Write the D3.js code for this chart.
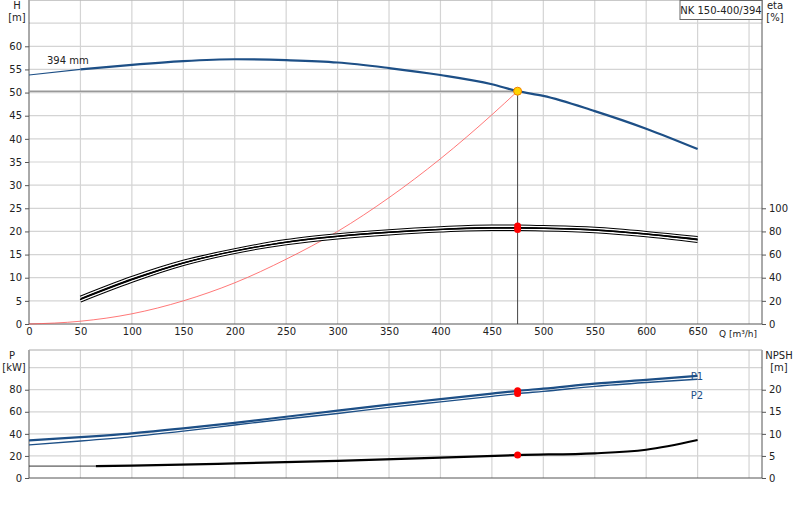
<!DOCTYPE html>
<html><head><meta charset="utf-8">
<script src="https://cdn.jsdelivr.net/npm/d3@7"></script>
<style>body{margin:0;background:#fff}text{font-family:"DejaVu Sans",sans-serif;font-size:10px;fill:#222}</style>
</head><body>
<svg width="800" height="520"></svg>
<script>
// pump curve data
const qH = [0, 50, 100, 150, 200, 250, 300, 350, 400, 450, 475, 500, 550, 600, 650];
const head = [53.8, 55, 56, 56.8, 57.2, 57, 56.5, 55.3, 53.8, 51.8, 50.3, 49.3, 46, 42.2, 37.8];
const qEta = [50, 100, 150, 200, 250, 300, 350, 400, 450, 475, 500, 550, 600, 650];
const etaHi = [23, 40, 54, 64, 72, 77, 80.5, 83, 84.5, 84.5, 84, 82.5, 79, 74.5];
const etaLo = [20, 37, 51.5, 62, 69.5, 74.5, 78, 80.5, 81.8, 81.8, 81.5, 80, 76.5, 71.5];
const qSys = [0, 50, 100, 150, 200, 250, 300, 350, 400, 450, 475];
const sysH = [0, 0.6, 2.2, 5, 8.9, 14, 20, 27.3, 35.7, 45.2, 50.3];
const qP = [0, 50, 100, 150, 200, 250, 300, 350, 400, 450, 475, 500, 550, 600, 650];
const p1 = [34, 37, 40.5, 45, 50, 55.5, 61, 66.5, 71.5, 76.5, 79, 81, 85.5, 89, 92.5];
const p2 = [30, 33.5, 37.5, 42.5, 48, 53.5, 58.5, 64, 69, 74, 76.5, 78.5, 83, 86.5, 89.5];
const qN = [0, 65, 100, 200, 300, 400, 475, 550, 600, 650];
const npsh = [2.7, 2.7, 2.8, 3.3, 3.9, 4.6, 5.2, 5.6, 6.4, 8.6];
const duty = {q: 475, h: 50.3, eta: 83.2, p1: 79, p2: 76.5, npsh: 5.2};
const qTicks = d3.range(0, 701, 50);
const hTicks = d3.range(0, 61, 5);
const etaTicks = d3.range(0, 101, 20);
const pTicks = [0, 20, 40, 60, 80];
const nTicks = [0, 5, 10, 15, 20];

const svg = d3.select('svg');
const x = d3.scaleLinear().domain([0, 712.6]).range([29, 762]);
const yH = d3.scaleLinear().domain([0, 70]).range([324, 0]);
const yEta = d3.scaleLinear().domain([0, 280]).range([324, 0]);
const yP = d3.scaleLinear().domain([0, 116]).range([478, 350]);
const yN = d3.scaleLinear().domain([0, 29]).range([478, 350]);

const grid = '#d4d4d4';
function frame(y0, y1, hVals, yS) {
  svg.append('g').selectAll('line').data(qTicks.slice(1)).join('line')
    .attr('x1', d => x(d)).attr('x2', d => x(d)).attr('y1', y0).attr('y2', y1)
    .attr('stroke', grid).attr('stroke-width', 1.2);
  svg.append('g').selectAll('line').data(hVals).join('line')
    .attr('x1', 29).attr('x2', 762).attr('y1', d => yS(d)).attr('y2', d => yS(d))
    .attr('stroke', grid).attr('stroke-width', 1.2);
  svg.append('line').attr('x1', 29).attr('x2', 29).attr('y1', y0).attr('y2', y1).attr('stroke', '#555');
  svg.append('line').attr('x1', 762).attr('x2', 762).attr('y1', y0).attr('y2', y1).attr('stroke', '#555');
  svg.append('line').attr('x1', 29).attr('x2', 762).attr('y1', y0).attr('y2', y0).attr('stroke', '#555');
  svg.append('line').attr('x1', 29).attr('x2', 762).attr('y1', y1).attr('y2', y1).attr('stroke', '#aaa');
}
frame(324, 0, d3.range(5, 71, 5), yH);
frame(478, 350, [20, 40, 60, 80, 100], yP);

// axes
function axis(g, ax) {
  g.call(ax); g.select('.domain').remove();
  g.selectAll('line').attr('stroke', '#555');
}
axis(svg.append('g').attr('transform', 'translate(29,0)'), d3.axisLeft(yH).tickValues(hTicks).tickSize(4).tickPadding(3));
axis(svg.append('g').attr('transform', 'translate(762,0)'), d3.axisRight(yEta).tickValues(etaTicks).tickSize(4).tickPadding(3));
axis(svg.append('g').attr('transform', 'translate(0,324)'), d3.axisBottom(x).tickValues(qTicks.slice(0, 14)).tickSize(0).tickPadding(4));
axis(svg.append('g').attr('transform', 'translate(29,0)'), d3.axisLeft(yP).tickValues(pTicks).tickSize(4).tickPadding(3));
axis(svg.append('g').attr('transform', 'translate(762,0)'), d3.axisRight(yN).tickValues(nTicks).tickSize(4).tickPadding(3));
svg.selectAll('.tick text').style('font-size', '10px');

const lbl = (t, xx, yy, a) => svg.append('text').text(t).attr('x', xx).attr('y', yy).attr('text-anchor', a || 'middle');
lbl('H', 17, 9); lbl('[m]', 17, 21);
lbl('eta', 775, 9); lbl('[%]', 775, 21);
lbl('P', 12, 359); lbl('[kW]', 14, 371);
lbl('NPSH', 779, 359); lbl('[m]', 779, 371);
lbl('Q [m³/h]', 719, 337, 'start').style('font-size', '9px');
lbl('394 mm', 47, 64, 'start');
svg.append('rect').attr('x', 680).attr('y', 0.5).attr('width', 82).attr('height', 19).attr('fill', '#fff').attr('stroke', '#666');
lbl('NK 150-400/394', 721, 14);

// lines
const ln = (xs, ys, yS) => d3.line().curve(d3.curveMonotoneX).x((d, i) => x(xs[i])).y(d => yS(d))(ys);
const path = (d, c, w) => svg.append('path').attr('d', d).attr('fill', 'none').attr('stroke', c).attr('stroke-width', w);

// duty lines
path(`M${x(0)},${yH(duty.h)}H${x(duty.q)}`, '#999', 1.5);
path(`M${x(duty.q)},${yH(duty.h)}V${yH(0)}`, '#444', 1);
path(ln(qSys, sysH, yH), '#f55', 0.8);

path(ln(qH.slice(0, 2), head.slice(0, 2), yH), '#1d4f86', 1.2);
path(ln(qH.slice(1), head.slice(1), yH), '#1d4f86', 2.2);

[etaHi, etaLo].forEach(s => {
  path(ln(qEta, s, yEta), '#000', 3.4);
  path(ln(qEta, s, yEta), '#fff', 1.4);
});
path(ln(qEta, etaHi.map((v, i) => (v + etaLo[i]) / 2), yEta), '#000', 1.4);

path(ln(qP, p1, yP), '#1d4f86', 2.2);
path(ln(qP, p2, yP), '#1d4f86', 1.4);
lbl('P1', 697, 380); lbl('P2', 697, 399);
svg.selectAll('text').filter(function () { return /^P[12]$/.test(this.textContent); }).style('fill', '#1d4f86');
path(ln(qN.slice(0, 2), npsh.slice(0, 2), yN), '#333', 1);
path(ln(qN.slice(1), npsh.slice(1), yN), '#000', 2.2);

// duty markers
const dot = (cx, cy, r, f, s) => svg.append('circle').attr('cx', cx).attr('cy', cy).attr('r', r).attr('fill', f).attr('stroke', s || 'none');
dot(x(duty.q), yEta(duty.eta - 1.5), 3.5, 'red'); dot(x(duty.q), yEta(duty.eta + 1.5), 3.5, 'red');
dot(x(duty.q), yP(duty.p1), 3.5, 'red'); dot(x(duty.q), yP(duty.p2), 3.5, 'red');
dot(x(duty.q), yN(duty.npsh), 3.5, 'red');
dot(x(duty.q), yH(duty.h), 4, '#ffd400', '#f08000');
</script>
</body></html>
